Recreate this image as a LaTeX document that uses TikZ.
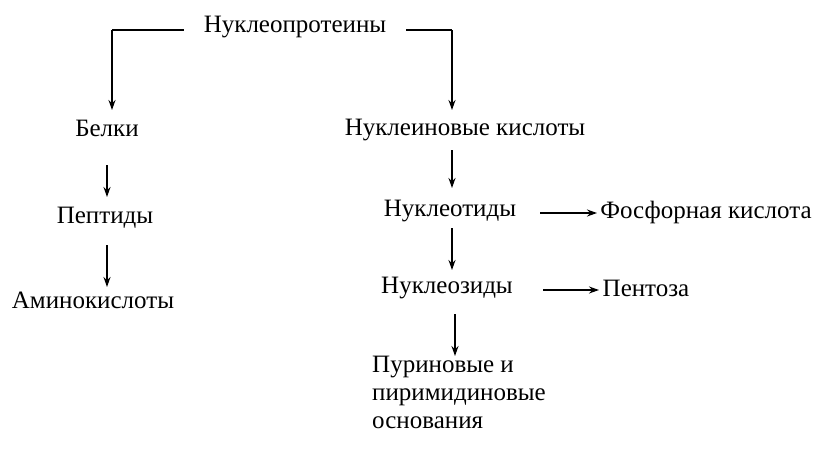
\documentclass[tikz,border=0pt]{standalone}
\usepackage{fontspec}
\setmainfont{Liberation Serif}
\usetikzlibrary{arrows.meta}
\begin{document}
\begin{tikzpicture}[x=1pt,y=-1pt,
  lbl/.style={inner sep=0pt,font=\fontsize{25}{28}\selectfont},
  arr/.style={line width=1.6pt,-{Stealth[length=10pt,width=7pt]}},
  ln/.style={line width=1.6pt}]
\useasboundingbox (0,0) rectangle (822,464);
\fill[white] (0,0) rectangle (822,464);
\node[lbl] (np) at (295,27) {Нуклеопротеины};
\node[lbl] (be) at (107,128) {Белки};
\node[lbl] (pe) at (105,218) {Пептиды};
\node[lbl] (am) at (93,300) {Аминокислоты};
\node[lbl] (nk) at (465,130) {Нуклеиновые кислоты};
\node[lbl] (nt) at (450,211) {Нуклеотиды};
\node[lbl] (fk) at (706,212) {Фосфорная кислота};
\node[lbl] (nz) at (447,288) {Нуклеозиды};
\node[lbl] (pt) at (646,288) {Пентоза};
\node[lbl,align=left,anchor=north west] (pu) at (372,356) {Пуриновые и\\пиримидиновые\\основания};
\coordinate (tl) at (112,30);
\coordinate (tr) at (452,30);
\coordinate (bt) at (112,110);
\coordinate (nkt) at (452,110);
\draw[ln] (np.west) ++(-20,3) -- (tl);
\draw[arr] (tl) -- (bt);
\draw[ln] (np.east) ++(20,3) -- (tr);
\draw[arr] (tr) -- (nkt);
\draw[arr] (107,165) -- (107,197);
\draw[arr] (107,245) -- (107,287);
\draw[arr] (452,150) -- (452,188);
\draw[arr] (452,228) -- (452,270);
\draw[arr] (455,314) -- (455,356);
\draw[arr] (540,213) -- (597,213);
\draw[arr] (543,290) -- (599,290);
\end{tikzpicture}
\end{document}
